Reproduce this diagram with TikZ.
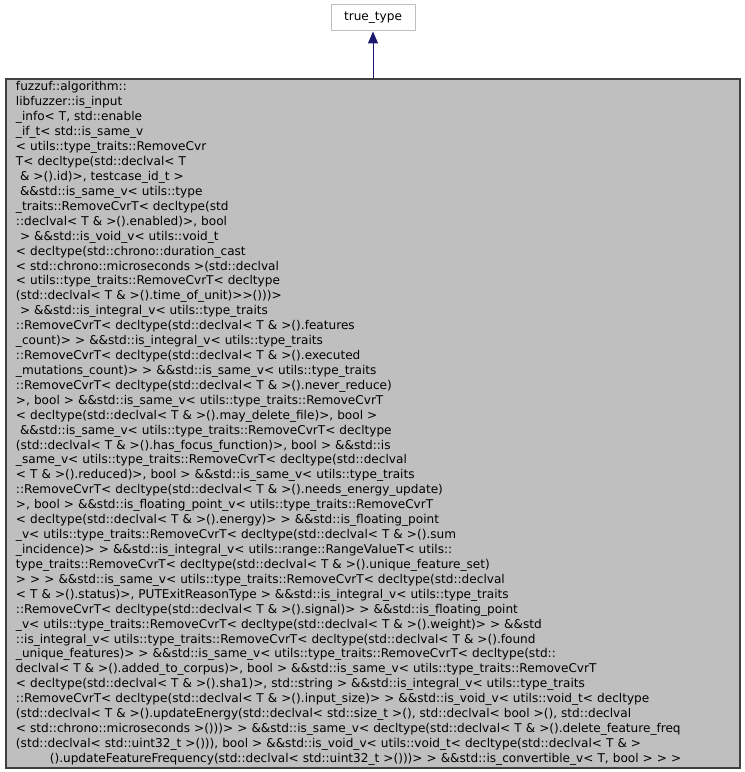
\documentclass[tikz,border=0pt]{standalone}
\usepackage{fontspec}
\setmainfont{DejaVu Sans}
\usepackage{xcolor}
\usetikzlibrary{arrows.meta,positioning}
\definecolor{nodegray}{HTML}{BFBFBF}
\definecolor{edgeblue}{HTML}{191970}
\definecolor{borderdark}{HTML}{404040}
\tikzset{
  classbox/.style={rectangle, draw=borderdark, fill=nodegray, line width=1.2bp, inner sep=0pt, font=\fontsize{12.1bp}{14.92bp}\selectfont},
  basebox/.style={rectangle, draw=nodegray, fill=white, line width=1bp, minimum width=84bp, minimum height=26bp, font=\fontsize{12.1bp}{14.92bp}\selectfont},
  inherit/.style={-{Triangle[length=12bp,width=10bp]}, draw=edgeblue, line width=1bp},
}

\begin{document}
\begin{tikzpicture}[x=1bp, y=-1bp]
  \useasboundingbox (0,0) rectangle (745,772);

  % Base class
  \node[basebox] (base) at (373,18) {true\_type};

  % Derived class
  \node[classbox, minimum width=734bp, minimum height=689bp, text width=714bp, align=left] (derived) at (373,423.5) {%
fuzzuf::algorithm::\\
libfuzzer::is\_input\\
\_info< T, std::enable\\
\_if\_t< std::is\_same\_v\\
< utils::type\_traits::RemoveCvr\\
T< decltype(std::declval< T\\
~\& >().id)>, testcase\_id\_t >\\
~\&\&std::is\_same\_v< utils::type\\
\_traits::RemoveCvrT< decltype(std\\
::declval< T \& >().enabled)>, bool\\
~> \&\&std::is\_void\_v< utils::void\_t\\
< decltype(std::chrono::duration\_cast\\
< std::chrono::microseconds >(std::declval\\
< utils::type\_traits::RemoveCvrT< decltype\\
(std::declval< T \& >().time\_of\_unit)>{}>()))>\\
~> \&\&std::is\_integral\_v< utils::type\_traits\\
::RemoveCvrT< decltype(std::declval< T \& >().features\\
\_count)> > \&\&std::is\_integral\_v< utils::type\_traits\\
::RemoveCvrT< decltype(std::declval< T \& >().executed\\
\_mutations\_count)> > \&\&std::is\_same\_v< utils::type\_traits\\
::RemoveCvrT< decltype(std::declval< T \& >().never\_reduce)\\
>, bool > \&\&std::is\_same\_v< utils::type\_traits::RemoveCvrT\\
< decltype(std::declval< T \& >().may\_delete\_file)>, bool >\\
~\&\&std::is\_same\_v< utils::type\_traits::RemoveCvrT< decltype\\
(std::declval< T \& >().has\_focus\_function)>, bool > \&\&std::is\\
\_same\_v< utils::type\_traits::RemoveCvrT< decltype(std::declval\\
< T \& >().reduced)>, bool > \&\&std::is\_same\_v< utils::type\_traits\\
::RemoveCvrT< decltype(std::declval< T \& >().needs\_energy\_update)\\
>, bool > \&\&std::is\_floating\_point\_v< utils::type\_traits::RemoveCvrT\\
< decltype(std::declval< T \& >().energy)> > \&\&std::is\_floating\_point\\
\_v< utils::type\_traits::RemoveCvrT< decltype(std::declval< T \& >().sum\\
\_incidence)> > \&\&std::is\_integral\_v< utils::range::RangeValueT< utils::\\
type\_traits::RemoveCvrT< decltype(std::declval< T \& >().unique\_feature\_set)\\
> > > \&\&std::is\_same\_v< utils::type\_traits::RemoveCvrT< decltype(std::declval\\
< T \& >().status)>, PUTExitReasonType > \&\&std::is\_integral\_v< utils::type\_traits\\
::RemoveCvrT< decltype(std::declval< T \& >().signal)> > \&\&std::is\_floating\_point\\
\_v< utils::type\_traits::RemoveCvrT< decltype(std::declval< T \& >().weight)> > \&\&std\\
::is\_integral\_v< utils::type\_traits::RemoveCvrT< decltype(std::declval< T \& >().found\\
\_unique\_features)> > \&\&std::is\_same\_v< utils::type\_traits::RemoveCvrT< decltype(std::\\
declval< T \& >().added\_to\_corpus)>, bool > \&\&std::is\_same\_v< utils::type\_traits::RemoveCvrT\\
< decltype(std::declval< T \& >().sha1)>, std::string > \&\&std::is\_integral\_v< utils::type\_traits\\
::RemoveCvrT< decltype(std::declval< T \& >().input\_size)> > \&\&std::is\_void\_v< utils::void\_t< decltype\\
(std::declval< T \& >().updateEnergy(std::declval< std::size\_t >(), std::declval< bool >(), std::declval\\
< std::chrono::microseconds >()))> > \&\&std::is\_same\_v< decltype(std::declval< T \& >().delete\_feature\_freq\\
(std::declval< std::uint32\_t >())), bool > \&\&std::is\_void\_v< utils::void\_t< decltype(std::declval< T \& >\\
\makebox[\linewidth][c]{().updateFeatureFrequency(std::declval< std::uint32\_t >()))> > \&\&std::is\_convertible\_v< T, bool > > >\hspace{15bp}}};

  % Inheritance arrow
  \draw[inherit] (derived) -- (base);
\end{tikzpicture}
\end{document}
